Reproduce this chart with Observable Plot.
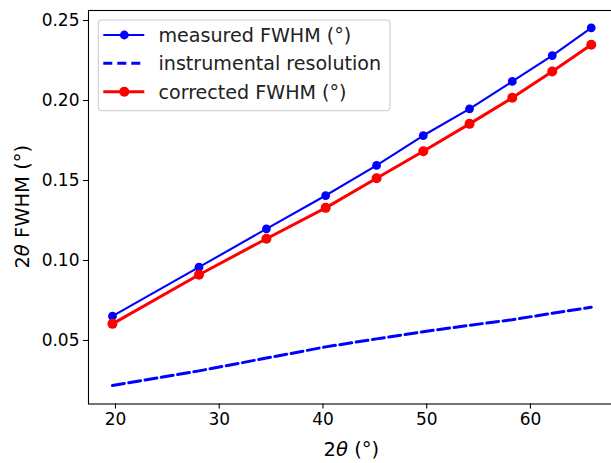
<!DOCTYPE html>
<html>
<head>
<meta charset="utf-8">
<script src="https://cdn.jsdelivr.net/npm/d3@7"></script>
<script src="https://cdn.jsdelivr.net/npm/@observablehq/plot@0.6"></script>
<style>
  html, body { margin: 0; padding: 0; background: white; overflow: hidden; }
</style>
</head>
<body>
<div id="chart"></div>
<script>
const twoTheta = [19.71, 28.05, 34.55, 40.26, 45.17, 49.67, 54.13, 58.25, 62.10, 65.86];
const measured = [0.0652, 0.0958, 0.1198, 0.1406, 0.1594, 0.1781, 0.1948, 0.2119, 0.2281, 0.2454];
const instrumental = [0.0219, 0.031, 0.039, 0.046, 0.051, 0.0555, 0.0595, 0.063, 0.067, 0.0708];
const corrected = [0.0604, 0.0911, 0.1136, 0.1329, 0.1514, 0.1683, 0.1854, 0.2017, 0.2181, 0.2348];
const xTicks = [20, 30, 40, 50, 60];
const yTicks = [0.05, 0.10, 0.15, 0.20, 0.25];
const seriesNames = ["measured FWHM (°)", "instrumental resolution", "corrected FWHM (°)"];

const rows = twoTheta.map((t, i) => ({t, m: measured[i], ins: instrumental[i], c: corrected[i]}));

const W = 611, H = 463;
const mL = 88, mT = 10, mB = 59.5, mR = -3.7;

const svg = Plot.plot({
  width: W, height: H,
  marginLeft: mL, marginTop: mT, marginBottom: mB, marginRight: mR,
  style: {fontFamily: "'DejaVu Sans', sans-serif", fontSize: "17px", color: "black", background: "white"},
  x: {domain: [17.40, 68.17]},
  y: {domain: [0.0103, 0.25625]},
  marks: [
    Plot.line(rows, {x: "t", y: "m", stroke: "#0000ff", strokeWidth: 2.1}),
    Plot.dot(rows, {x: "t", y: "m", fill: "#0000ff", r: 4.4, stroke: "none"}),
    Plot.line(rows, {x: "t", y: "ins", stroke: "#0000ff", strokeWidth: 3, strokeDasharray: "12 4.5"}),
    Plot.line(rows, {x: "t", y: "c", stroke: "#ff0000", strokeWidth: 3}),
    Plot.dot(rows, {x: "t", y: "c", fill: "#ff0000", r: 5, stroke: "none"}),
    Plot.frame({stroke: "black", strokeWidth: 1.1}),
    Plot.axisX({ticks: xTicks, tickSize: 5, tickPadding: 4, label: null, fontSize: 17, strokeWidth: 1.1}),
    Plot.axisY({ticks: yTicks, tickSize: 5, tickPadding: 4, label: null, fontSize: 17, strokeWidth: 1.1, tickFormat: d3.format(".2f")})
  ]
});
document.getElementById("chart").appendChild(svg);

const s = d3.select(svg);
const font = "'DejaVu Sans', sans-serif";

// axis labels
const xl = s.append("text").attr("x", (mL + W - mR) / 2).attr("y", 456)
  .attr("text-anchor", "middle").attr("font-family", font).attr("font-size", 19.5).attr("fill", "black");
xl.append("tspan").text("2");
xl.append("tspan").attr("font-style", "italic").text("θ");
xl.append("tspan").text(" (°)");

const yl = s.append("text").attr("transform", `translate(29,${(mT + H - mB) / 2}) rotate(-90)`)
  .attr("text-anchor", "middle").attr("font-family", font).attr("font-size", 19.5).attr("fill", "black");
yl.append("tspan").text("2");
yl.append("tspan").attr("font-style", "italic").text("θ");
yl.append("tspan").text(" FWHM (°)");

// legend
const lg = s.append("g");
lg.append("rect").attr("x", 98.3).attr("y", 20).attr("width", 291.7).attr("height", 90.7)
  .attr("rx", 3.5).attr("fill", "white").attr("fill-opacity", 0.8)
  .attr("stroke", "#cccccc").attr("stroke-width", 1.1);
const rowY = [35, 63.3, 91.7];
const styles = [
  {color: "#0000ff", w: 2.1, dash: null, r: 4.4},
  {color: "#0000ff", w: 3, dash: "9 5", r: 0},
  {color: "#ff0000", w: 3, dash: null, r: 5}
];
seriesNames.forEach((name, i) => {
  const st = styles[i], y = rowY[i];
  const ln = lg.append("line").attr("x1", 103.3).attr("x2", 144.3).attr("y1", y).attr("y2", y)
    .attr("stroke", st.color).attr("stroke-width", st.w);
  if (st.dash) ln.attr("stroke-dasharray", st.dash);
  if (st.r) lg.append("circle").attr("cx", 124.3).attr("cy", y).attr("r", st.r).attr("fill", st.color);
  lg.append("text").attr("x", 158.5).attr("y", y + 6.9).attr("font-family", font)
    .attr("text-anchor", "start")
    .attr("font-size", 19.1).attr("fill", "#222").text(name);
});
</script>
</body>
</html>
